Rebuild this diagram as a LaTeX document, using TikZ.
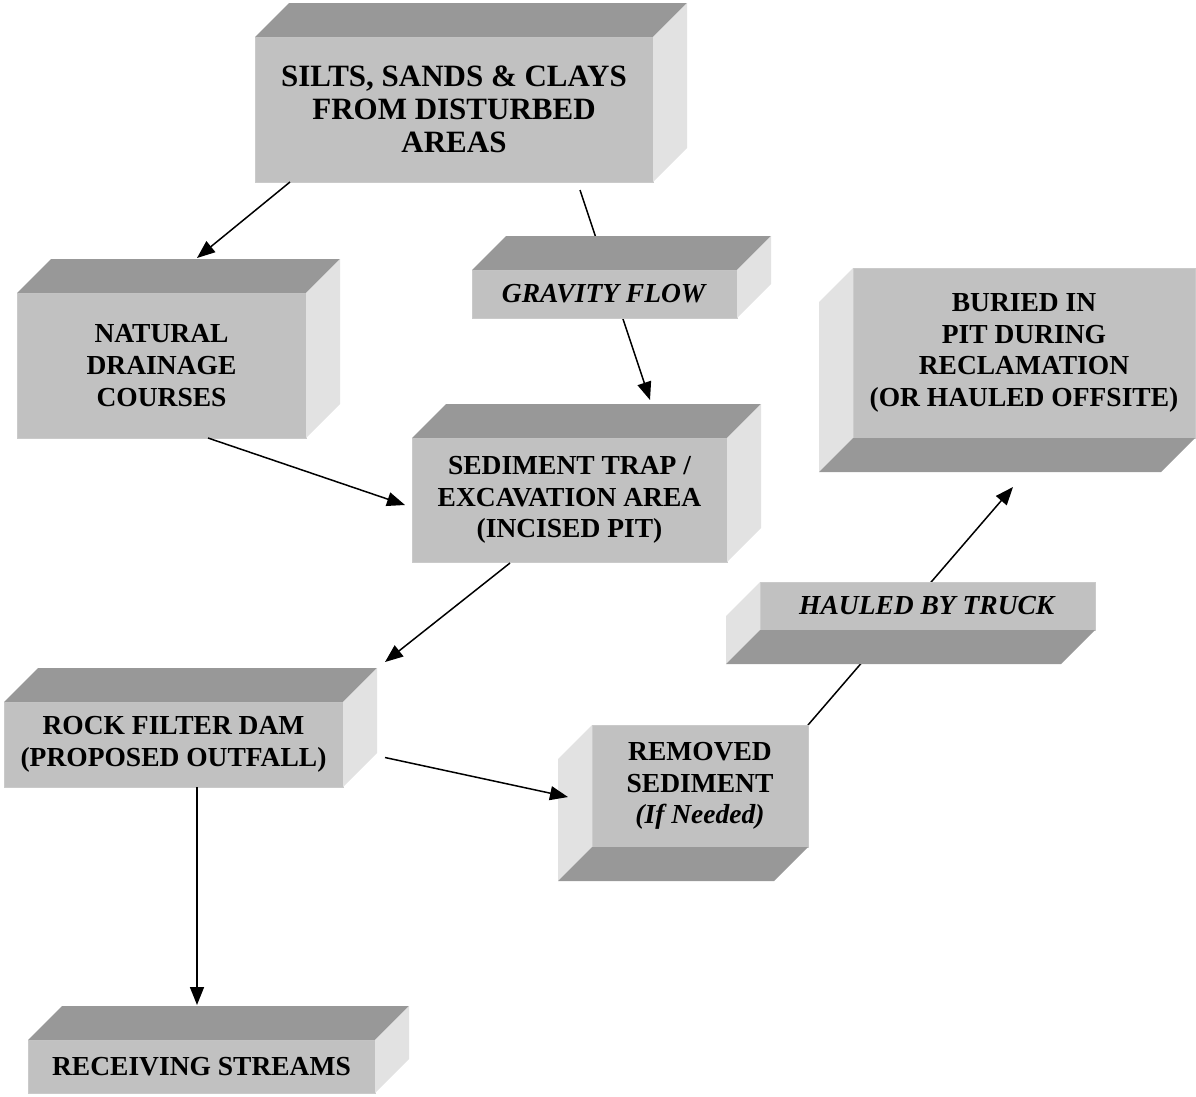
\documentclass[tikz,border=0pt]{standalone}
\usepackage{fontspec}
\setmainfont{Liberation Serif}
\usetikzlibrary{arrows.meta,calc,backgrounds}

\definecolor{frontgray}{RGB}{193,193,193}
\definecolor{shadegray}{RGB}{152,152,152}
\definecolor{sidegray}{RGB}{226,226,226}

% bevel seen from above right: top face and right face
\newcommand{\upfaces}[1]{%
	\fill[shadegray] (#1.north west) -- ++(34,-34) -- ([shift={(34,-34)}]#1.north east) -- (#1.north east) -- cycle;
	\fill[sidegray] (#1.north east) -- ++(34,-34) -- ([shift={(34,-34)}]#1.south east) -- (#1.south east) -- cycle;
}
% bevel seen from below left: left face and bottom face
\newcommand{\downfaces}[1]{%
	\fill[sidegray] (#1.north west) -- ++(-34,34) -- ([shift={(-34,34)}]#1.south west) -- (#1.south west) -- cycle;
	\fill[shadegray] (#1.south west) -- ++(-34,34) -- ([shift={(-34,34)}]#1.south east) -- (#1.south east) -- cycle;
}

\begin{document}
\begin{tikzpicture}[x=1pt, y=-1pt,
		block/.style={
			rectangle, fill=frontgray, draw=frontgray!85!white, line width=1pt,
			inner sep=0pt, outer sep=0pt, align=center,
			font=\fontsize{27.5}{31.7}\selectfont\bfseries
		},
		flow/.style={line width=1.5pt, -{Triangle[length=18pt,width=14pt]}}
	]
	\useasboundingbox (0,0) rectangle (1196,1096);

	\node[block, minimum width=398pt, minimum height=145pt,
		font=\fontsize{31}{33}\selectfont\bfseries
	] (silts) at (454,109.5) {SILTS, SANDS \& CLAYS\\FROM DISTURBED\\AREAS};
	\upfaces{silts}

	\node[block, minimum width=289pt, minimum height=145pt] (natural) at (161.5,365.5) {NATURAL\\DRAINAGE\\COURSES};
	\upfaces{natural}

	\node[block, minimum width=265pt, minimum height=48pt] (gravity) at (604.5,294) {\textit{GRAVITY FLOW}};
	\upfaces{gravity}

	\node[block, minimum width=315pt, minimum height=124pt] (trap) at (569.5,500) {SEDIMENT TRAP /\\EXCAVATION AREA\\(INCISED PIT)};
	\upfaces{trap}

	\node[block, minimum width=342pt, minimum height=170pt] (buried) at (1024,353) {BURIED IN\\PIT DURING\\RECLAMATION\\(OR HAULED OFFSITE)};
	\downfaces{buried}

	\node[block, minimum width=335pt, minimum height=48pt] (hauled) at (927.5,606) {\textit{HAULED BY TRUCK}};
	\downfaces{hauled}

	\node[block, minimum width=339pt, minimum height=85pt] (rock) at (173.5,744.5) {ROCK FILTER DAM\\(PROPOSED OUTFALL)};
	\upfaces{rock}

	\node[block, minimum width=216pt, minimum height=122pt] (removed) at (700,786) {REMOVED\\SEDIMENT\\\textit{(If Needed)}};
	\downfaces{removed}

	\node[block, minimum width=347pt, minimum height=53pt] (receiving) at (201.5,1066.5) {RECEIVING STREAMS};
	\upfaces{receiving}

	% connectors
	\draw[flow] ($(silts.south west)+(35,0)$) -- ($(natural.north west)+(180,-35)$);
	\draw[flow] ($(natural.south west)+(191,0)$) -- ($(trap.west)+(-7,5)$);
	\draw[flow] ($(trap.south west)+(98,1)$) -- ($(rock.north east)+(42,-40)$);
	\draw[flow] ($(rock.east)+(42,13)$) -- ($(removed.west)+(-24,11)$);
	\draw[flow] ($(rock.south west)+(193,0)$) -- ($(receiving.north west)+(169,-35)$);
	\begin{scope}[on background layer]
		\draw[flow] ($(silts.south west)+(325,8)$) -- ($(trap.north west)+(238,-38)$);
		\draw[flow] (removed.north east) -- ($(buried.south west)+(160,49)$);
	\end{scope}
\end{tikzpicture}
\end{document}
